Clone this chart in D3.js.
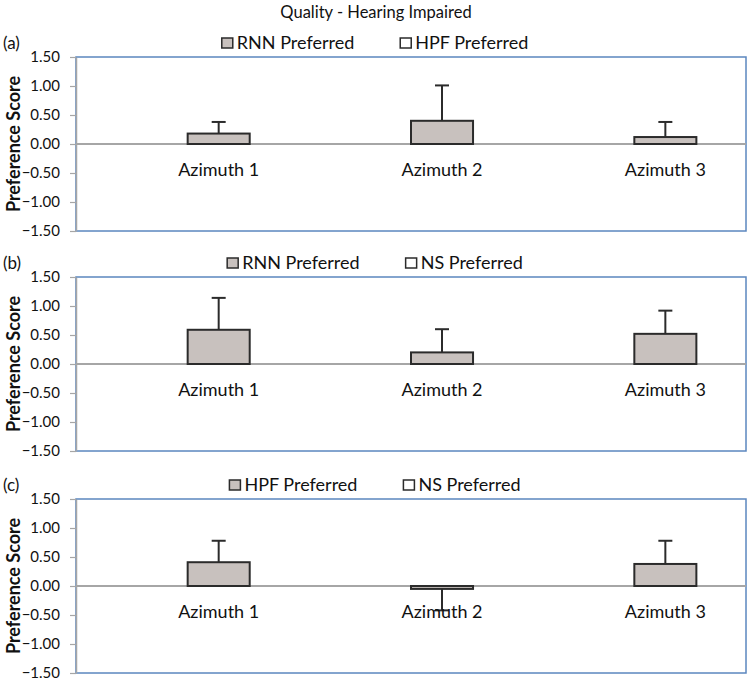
<!DOCTYPE html>
<html>
<head>
<meta charset="utf-8">
<script src="https://cdn.jsdelivr.net/npm/d3@7"></script>
<style>
  body { margin: 0; background: #fff; }
  text { font-family: Lato, 'Open Sans', sans-serif; fill: #111; }
</style>
</head>
<body>
<svg></svg>
<script>
let width = 750
let height = 682

// data
let title = 'Quality - Hearing Impaired'
let categories = ['Azimuth 1', 'Azimuth 2', 'Azimuth 3']
let panelLabels = ['(a)', '(b)', '(c)']
let legendA = ['RNN Preferred', 'HPF Preferred']
let legendB = ['RNN Preferred', 'NS Preferred']
let legendC = ['HPF Preferred', 'NS Preferred']
let meansA = [0.18, 0.40, 0.12]
let errorsA = [0.20, 0.61, 0.26]
let meansB = [0.59, 0.20, 0.52]
let errorsB = [0.55, 0.40, 0.40]
let meansC = [0.41, -0.05, 0.38]
let errorsC = [0.37, 0.37, 0.40]
let yTicks = [-1.5, -1, -0.5, 0, 0.5, 1, 1.5]

let panels = [
  { label: panelLabels[0], legend: legendA, means: meansA, errors: errorsA },
  { label: panelLabels[1], legend: legendB, means: meansB, errors: errorsB },
  { label: panelLabels[2], legend: legendC, means: meansC, errors: errorsC }
]

let panelTops = [57, 277, 499]
let panelHeight = 174
let left = 76
let right = 746

let barFill = '#c8c1be'
let barStroke = '#2b2b2b'
let frameBlue = '#5b87bf'
let axisGrey = '#a6a6a6'

let svg = d3.select('svg')
    .attr('width', width)
    .attr('height', height)

svg.append('text')
    .attr('x', 376)
    .attr('y', 18)
    .style('text-anchor', 'middle')
    .style('font-size', '16.5px')
    .text(title)

let xScale = d3.scaleBand()
                .domain(categories)
                .range([left, right])

// the coloured series sits in the right half of each group, the second one is empty
let subScale = d3.scaleBand()
                .domain(['empty', 'shown'])
                .range([0, xScale.bandwidth()])
                .paddingInner(0)
                .paddingOuter(0.8)

panels.forEach((p, i) => {
  let top = panelTops[i]
  let yScale = d3.scaleLinear()
                  .domain([-1.5, 1.5])
                  .range([top + panelHeight, top])

  let g = svg.append('g')

  // frame
  g.append('rect')
      .attr('x', left)
      .attr('y', top)
      .attr('width', right - left)
      .attr('height', panelHeight)
      .attr('fill', 'none')
      .attr('stroke', frameBlue)
      .attr('stroke-width', 1.5)

  // y axis
  let yAxis = d3.axisLeft(yScale)
                .tickValues(yTicks)
                .tickFormat(d3.format('.2f'))
                .tickSize(6)
                .tickSizeOuter(0)
                .tickPadding(10)

  let ay = g.append('g')
      .attr('transform', `translate(${left}, 0)`)
      .call(yAxis)
  ay.select('.domain').attr('stroke', axisGrey).attr('stroke-width', 1.5)
  ay.selectAll('.tick line').attr('stroke', axisGrey).attr('stroke-width', 1.2)
  ay.selectAll('.tick text')
      .style('font-size', '15px')
      .style('font-family', 'Lato, sans-serif')
      .attr('fill', '#111')

  // zero line
  g.append('line')
      .attr('x1', left)
      .attr('x2', right)
      .attr('y1', yScale(0))
      .attr('y2', yScale(0))
      .attr('stroke', axisGrey)
      .attr('stroke-width', 1.8)

  let rows = categories.map((c, j) => ({ cat: c, mean: p.means[j], err: p.errors[j] }))
  let barX = d => xScale(d.cat) + subScale('shown')
  let barMid = d => barX(d) + subScale.bandwidth() / 2

  // error bars (plus direction only)
  let ends = d => d.mean + Math.sign(d.mean) * d.err
  g.selectAll('.err')
    .data(rows)
    .enter()
    .append('line')
      .attr('x1', barMid)
      .attr('x2', barMid)
      .attr('y1', d => yScale(d.mean))
      .attr('y2', d => yScale(ends(d)))
      .attr('stroke', barStroke)
      .attr('stroke-width', 2)
  g.selectAll('.cap')
    .data(rows)
    .enter()
    .append('line')
      .attr('x1', d => barMid(d) - 7)
      .attr('x2', d => barMid(d) + 7)
      .attr('y1', d => yScale(ends(d)))
      .attr('y2', d => yScale(ends(d)))
      .attr('stroke', barStroke)
      .attr('stroke-width', 2)

  g.selectAll('.bar')
    .data(rows)
    .enter()
    .append('rect')
      .attr('x', barX)
      .attr('y', d => yScale(Math.max(0, d.mean)))
      .attr('width', subScale.bandwidth())
      .attr('height', d => Math.abs(yScale(d.mean) - yScale(0)))
      .attr('fill', barFill)
      .attr('stroke', barStroke)
      .attr('stroke-width', 2)

  // category labels
  g.selectAll('.cat')
    .data(rows)
    .enter()
    .append('text')
      .attr('x', barMid)
      .attr('y', yScale(0) + 32)
      .style('text-anchor', 'middle')
      .style('font-size', '18px')
      .text(d => d.cat)

  // panel label
  g.append('text')
      .attr('x', 3)
      .attr('y', top - 8)
      .style('font-size', '17px')
      .text(p.label)

  // y title
  g.append('text')
      .attr('transform', 'rotate(-90)')
      .attr('x', -(top + panelHeight / 2))
      .attr('y', 20)
      .style('text-anchor', 'middle')
      .style('font-size', '18px')
      .style('font-weight', 'bold')
      .text('Preference Score')

  // legend, centred over the chart
  let lg = g.append('g')
  let items = lg.selectAll('g')
    .data(p.legend)
    .enter()
    .append('g')
  items.append('rect')
      .attr('width', 11)
      .attr('height', 10)
      .attr('y', -5)
      .attr('fill', (d, k) => k === 0 ? barFill : '#fff')
      .attr('stroke', barStroke)
      .attr('stroke-width', 1.5)
  items.append('text')
      .attr('x', 15)
      .attr('y', 6)
      .style('font-size', '18px')
      .text(d => d)
  let xPos = 0
  items.each(function () {
    d3.select(this).attr('transform', `translate(${xPos}, 0)`)
    xPos += this.getBBox().width + 46
  })
  let total = xPos - 46
  lg.attr('transform', `translate(${375 - total / 2}, ${top - 14})`)
})
</script>
</body>
</html>
